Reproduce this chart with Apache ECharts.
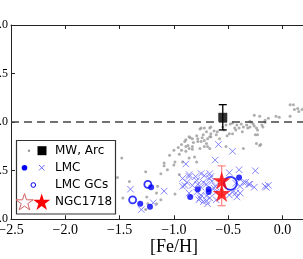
<!DOCTYPE html>
<html><head><meta charset="utf-8">
<script src="https://cdn.jsdelivr.net/npm/echarts@6/dist/echarts.min.js"></script>
<style>html,body{margin:0;padding:0;overflow:hidden;background:#fff;width:303px;height:259px}#c{width:345px;height:259px}</style>
</head><body><div id="c"></div>
<script>
// ---- data ----
const xTicks = [-2.5, -2.0, -1.5, -1.0, -0.5, 0.0, 0.5];
const yTicks = [-1.0, -0.5, 0.0, 0.5, 1.0];
const mwPoints = [
[0.07,0.18],[0.10,0.18],[0.11,0.13],[0.14,0.14],[0.15,0.11],[0.18,0.13],[0.20,0.15],[0.23,0.12],
[-0.26,0.07],[-0.21,0.06],[-0.13,0.04],[-0.16,0.02],[-0.06,0.06],[-0.03,0.05],[0.07,0.06],
[-0.30,0.01],[-0.29,0.00],[-0.16,0.00],
[-0.46,-0.01],[-0.42,-0.03],[-0.38,-0.02],[-0.36,-0.05],[-0.33,-0.03],[-0.30,-0.05],[-0.26,-0.04],[-0.27,-0.02],[-0.19,-0.03],[-0.18,-0.05],
[-0.40,-0.06],[-0.32,-0.06],[-0.24,-0.06],[-0.23,-0.08],[-0.43,-0.08],[-0.37,-0.10],[-0.46,-0.12],[-0.25,-0.13],[-0.23,-0.13],
[-0.55,-0.05],[-0.52,-0.03],[-0.48,-0.02],
[-0.75,-0.06],[-0.67,-0.06],[-0.63,-0.09],[-0.70,-0.10],[-0.73,-0.13],[-0.67,-0.15],[-0.61,-0.13],[-0.58,-0.17],[-0.51,-0.14],[-0.49,-0.12],
[-0.75,-0.20],[-0.70,-0.22],[-0.72,-0.25],[-0.67,-0.27],[-0.52,-0.25],[-0.36,-0.27],[-0.21,-0.24],[-0.20,-0.23],[-0.24,-0.22],
[-0.76,-0.07],[-0.72,-0.06],[-0.66,-0.05],[-0.86,-0.15],[-0.83,-0.17],[-0.89,-0.18],[-0.78,-0.17],[-0.72,-0.19],[-0.69,-0.17],[-0.66,-0.15],
[-0.89,-0.25],[-0.86,-0.27],[-0.83,-0.25],[-0.76,-0.27],[-0.69,-0.25],[-0.93,-0.29],[-0.89,-0.30],[-1.04,-0.34],[-0.95,-0.33],[-0.86,-0.37],[-0.81,-0.36],[-0.92,-0.41],[-1.09,-0.42],[-0.99,-0.41],
[-1.48,-0.37],[-1.00,-0.44],[-1.09,-0.45],[-1.26,-0.51],[-1.12,-0.53],[-1.41,-0.61],[-1.15,-0.66],[-1.16,-0.73],[-0.99,-0.74],[-1.47,-0.78],[-1.25,-0.77],[-1.12,-0.80],[-1.24,-0.84],
[-0.87,-0.24],[-0.82,-0.21],[-0.78,-0.20],[-0.83,-0.28],
[-1.52,-0.57],[-1.26,-0.90],[-1.16,-0.84],[-1.00,-0.29],[-0.96,-0.26],[-0.93,-0.23],[-0.90,-0.20],[-0.85,-0.16],[-0.79,-0.14],[-0.74,-0.16],[-0.66,-0.12],[-0.60,-0.10],[-0.54,-0.08],[-0.44,-0.06],
[-1.06,-0.49],[-0.95,-0.54],[-0.79,-0.41]
];
const arcPoint = [[-0.55, 0.05]];
const arcErr = [0.13];
const lmcDots = [[-1.21,-0.67],[-1.31,-0.84],[-1.22,-0.87],[-0.85,-0.77],[-0.78,-0.69],[-0.68,-0.69],[-0.68,-0.72],[-0.40,-0.57]];
const lmcCross = [
[-0.59,-0.23],[-0.46,-0.30],[-0.62,-0.39],[-0.89,-0.43],[-0.25,-0.50],[-0.40,-0.49],[-0.49,-0.52],[-0.86,-0.54],[-0.75,-0.53],[-0.67,-0.53],
[-0.86,-0.56],[-0.92,-0.58],[-0.79,-0.60],[-0.73,-0.62],[-0.65,-0.61],[-0.67,-0.58],[-0.90,-0.65],[-0.92,-0.66],[-0.83,-0.65],[-0.75,-0.67],
[-0.62,-0.66],[-0.63,-0.68],[-0.43,-0.63],[-0.36,-0.62],[-0.34,-0.62],[-0.30,-0.64],[-0.26,-0.67],[-0.16,-0.66],[-0.13,-0.65],[-0.39,-0.66],
[-0.61,-0.72],[-0.46,-0.72],[-0.43,-0.73],[-0.39,-0.73],[-0.49,-0.75],[-0.42,-0.77],[-0.77,-0.80],[-0.70,-0.81],[-0.67,-0.78],[-0.70,-0.76],
[-0.61,-0.80],[-0.86,-0.73],[-0.79,-0.72],[-0.76,-0.78],[-0.69,-0.84],[-0.75,-0.75],[-1.09,-0.71],[-1.19,-0.83],[-1.40,-0.69],[-1.30,-0.90],
[-0.80,-0.56],[-0.72,-0.55],[-0.88,-0.62],[-0.70,-0.64],[-0.78,-0.64],[-0.73,-0.82],[-0.66,-0.56],[-0.15,-0.67],[-0.31,-0.64]
];
const lmcGCs = [[-1.24,-0.64],[-1.38,-0.80],[-0.48,-0.63]];
const ngcStars = [[-0.56,-0.60],[-0.56,-0.73]];
const ngcErr = [0.15, 0.13];
const legendLabels = ['MW, Arc', 'LMC', 'LMC GCs', 'NGC1718'];

// ---- chart ----
const STAR = 'path://M0,-1L0.2245,-0.309L0.951,-0.309L0.363,0.118L0.588,0.809L0,0.382L-0.588,0.809L-0.363,0.118L-0.951,-0.309L-0.2245,-0.309Z';
const CROSS = 'path://M0,0L10,10M10,0L0,10';
const fmt = v => (v < 0 ? '\u2212' : '') + Math.abs(v).toFixed(1);
const serif = 'Liberation Serif';
const axCol = '#222';

function starPts(cx, cy, r) {
  const pts = [];
  for (let k = 0; k < 10; k++) {
    const a = -Math.PI / 2 + k * Math.PI / 5;
    const rr = k % 2 === 0 ? r : r * 0.382;
    pts.push([cx + rr * Math.cos(a), cy + rr * Math.sin(a) + r * 0.1]);
  }
  return pts;
}

function errSeries(name, pts, errs, color, z) {
  return {
    type: 'custom', name, z,
    data: pts.map((p, i) => [p[0], p[1] - errs[i], p[1] + errs[i]]),
    renderItem: (params, api) => {
      const lo = api.coord([api.value(0), api.value(1)]);
      const hi = api.coord([api.value(0), api.value(2)]);
      const w = 4;
      const st = { stroke: color, lineWidth: 1.3, fill: null };
      return { type: 'group', children: [
        { type: 'line', shape: { x1: lo[0], y1: lo[1], x2: hi[0], y2: hi[1] }, style: st },
        { type: 'line', shape: { x1: lo[0]-w, y1: lo[1], x2: lo[0]+w, y2: lo[1] }, style: st },
        { type: 'line', shape: { x1: hi[0]-w, y1: hi[1], x2: hi[0]+w, y2: hi[1] }, style: st }
      ]};
    }
  };
}

const chart = echarts.init(document.getElementById('c'), null, { renderer: 'canvas' });
const gridLeft = 11, gridTop = 25, gridW = 325.8, gridH = 194.3;
const legX = 16.5, legY = 140.5, legW = 99, legH = 73.5;
const rows = [150.7, 167.7, 185, 201.7];

chart.setOption({
  animation: false,
  grid: { left: gridLeft, top: gridTop, width: gridW, height: gridH, containLabel: false, outerBoundsMode: 'none' },
  xAxis: [
    { type: 'value', min: xTicks[0], max: xTicks[xTicks.length-1], interval: 0.5, position: 'bottom',
      name: '[Fe/H]', nameLocation: 'middle', nameGap: 19, nameMoveOverlap: false,
      nameTextStyle: { fontFamily: serif, fontSize: 18, color: '#000', verticalAlign: 'top' },
      axisLine: { show: true, onZero: false, lineStyle: { color: axCol, width: 1 } },
      axisTick: { show: true, inside: true, length: 4, lineStyle: { color: axCol } },
      axisLabel: { formatter: fmt, fontFamily: serif, fontSize: 14, color: '#000', margin: 4, showMinLabel: true, showMaxLabel: true },
      splitLine: { show: false } },
    { type: 'value', min: xTicks[0], max: xTicks[xTicks.length-1], interval: 0.5, position: 'top',
      axisLine: { show: true, onZero: false, lineStyle: { color: axCol, width: 1 } },
      axisTick: { show: true, inside: true, length: 4, lineStyle: { color: axCol } },
      axisLabel: { show: false }, splitLine: { show: false } }
  ],
  yAxis: [
    { type: 'value', min: yTicks[0], max: yTicks[yTicks.length-1], interval: 0.5,
      axisLine: { show: true, onZero: false, lineStyle: { color: axCol, width: 1 } },
      axisTick: { show: true, inside: true, length: 4, lineStyle: { color: axCol } },
      axisLabel: { formatter: fmt, fontFamily: serif, fontSize: 12, color: '#000', margin: 3 },
      splitLine: { show: false } }
  ],
  series: [
    { type: 'scatter', name: 'MW', data: mwPoints, symbol: 'circle', symbolSize: 3,
      itemStyle: { color: '#9a9a9a' }, z: 2,
      markLine: { silent: true, symbol: 'none', label: { show: false },
        lineStyle: { type: [8, 5], color: '#444', width: 1.5 }, data: [{ yAxis: 0 }] } },
    { type: 'scatter', name: 'LMC', data: lmcCross, symbol: CROSS, symbolSize: 6.5,
      itemStyle: { color: 'none', borderColor: '#6666ff', borderWidth: 1 }, z: 3 },
    { type: 'scatter', name: 'LMC dots', data: lmcDots, symbol: 'circle', symbolSize: 6,
      itemStyle: { color: '#0000ff' }, z: 4 },
    { type: 'scatter', name: 'LMC GCs', data: lmcGCs, symbol: 'circle',
      symbolSize: (v, p) => [7, 7, 13][p.dataIndex],
      itemStyle: { color: 'rgba(0,0,0,0)', borderColor: '#0000ff', borderWidth: 1.8 }, z: 5 },
    errSeries('Arc err', arcPoint, arcErr, '#000', 6),
    { type: 'scatter', name: 'Arc', data: arcPoint, symbol: 'rect', symbolSize: 9,
      itemStyle: { color: '#000' }, z: 7 },
    errSeries('NGC err', ngcStars, ngcErr, '#ff8a8a', 8),
    { type: 'scatter', name: 'NGC1718', data: ngcStars, symbol: STAR, symbolSize: 18,
      itemStyle: { color: '#ff0000' }, z: 9 }
  ],
  graphic: [
    { type: 'rect', z: 100, shape: { x: legX, y: legY, width: legW, height: legH },
      style: { fill: '#fff', stroke: '#333', lineWidth: 1.2 } },
    { type: 'circle', z: 101, shape: { cx: 29, cy: rows[0], r: 1.3 }, style: { fill: '#9a9a9a' } },
    { type: 'rect', z: 101, shape: { x: 37.5, y: rows[0]-4.5, width: 9, height: 9 }, style: { fill: '#000' } },
    { type: 'circle', z: 101, shape: { cx: 24.5, cy: rows[1], r: 2.8 }, style: { fill: '#0000ff' } },
    { type: 'line', z: 101, shape: { x1: 39, y1: rows[1]-2.7, x2: 44.4, y2: rows[1]+2.7 }, style: { stroke: '#6666ff', lineWidth: 1 } },
    { type: 'line', z: 101, shape: { x1: 44.4, y1: rows[1]-2.7, x2: 39, y2: rows[1]+2.7 }, style: { stroke: '#6666ff', lineWidth: 1 } },
    { type: 'circle', z: 101, shape: { cx: 33.3, cy: rows[2], r: 2.3 }, style: { fill: 'none', stroke: '#0000ff', lineWidth: 1 } },
    { type: 'polygon', z: 101, shape: { points: starPts(24.5, rows[3], 9) },
      style: { fill: 'none', stroke: '#d06060', lineWidth: 1 } },
    { type: 'polygon', z: 101, shape: { points: starPts(41.7, rows[3], 9) },
      style: { fill: '#ff0000' } },
    ...legendLabels.map((t, i) => ({ type: 'text', z: 102, x: 55, y: rows[i],
      style: { text: t, fontFamily: 'DejaVu Sans', fontSize: 12, fill: '#000', verticalAlign: 'middle' } }))
  ]
});
</script></body></html>
